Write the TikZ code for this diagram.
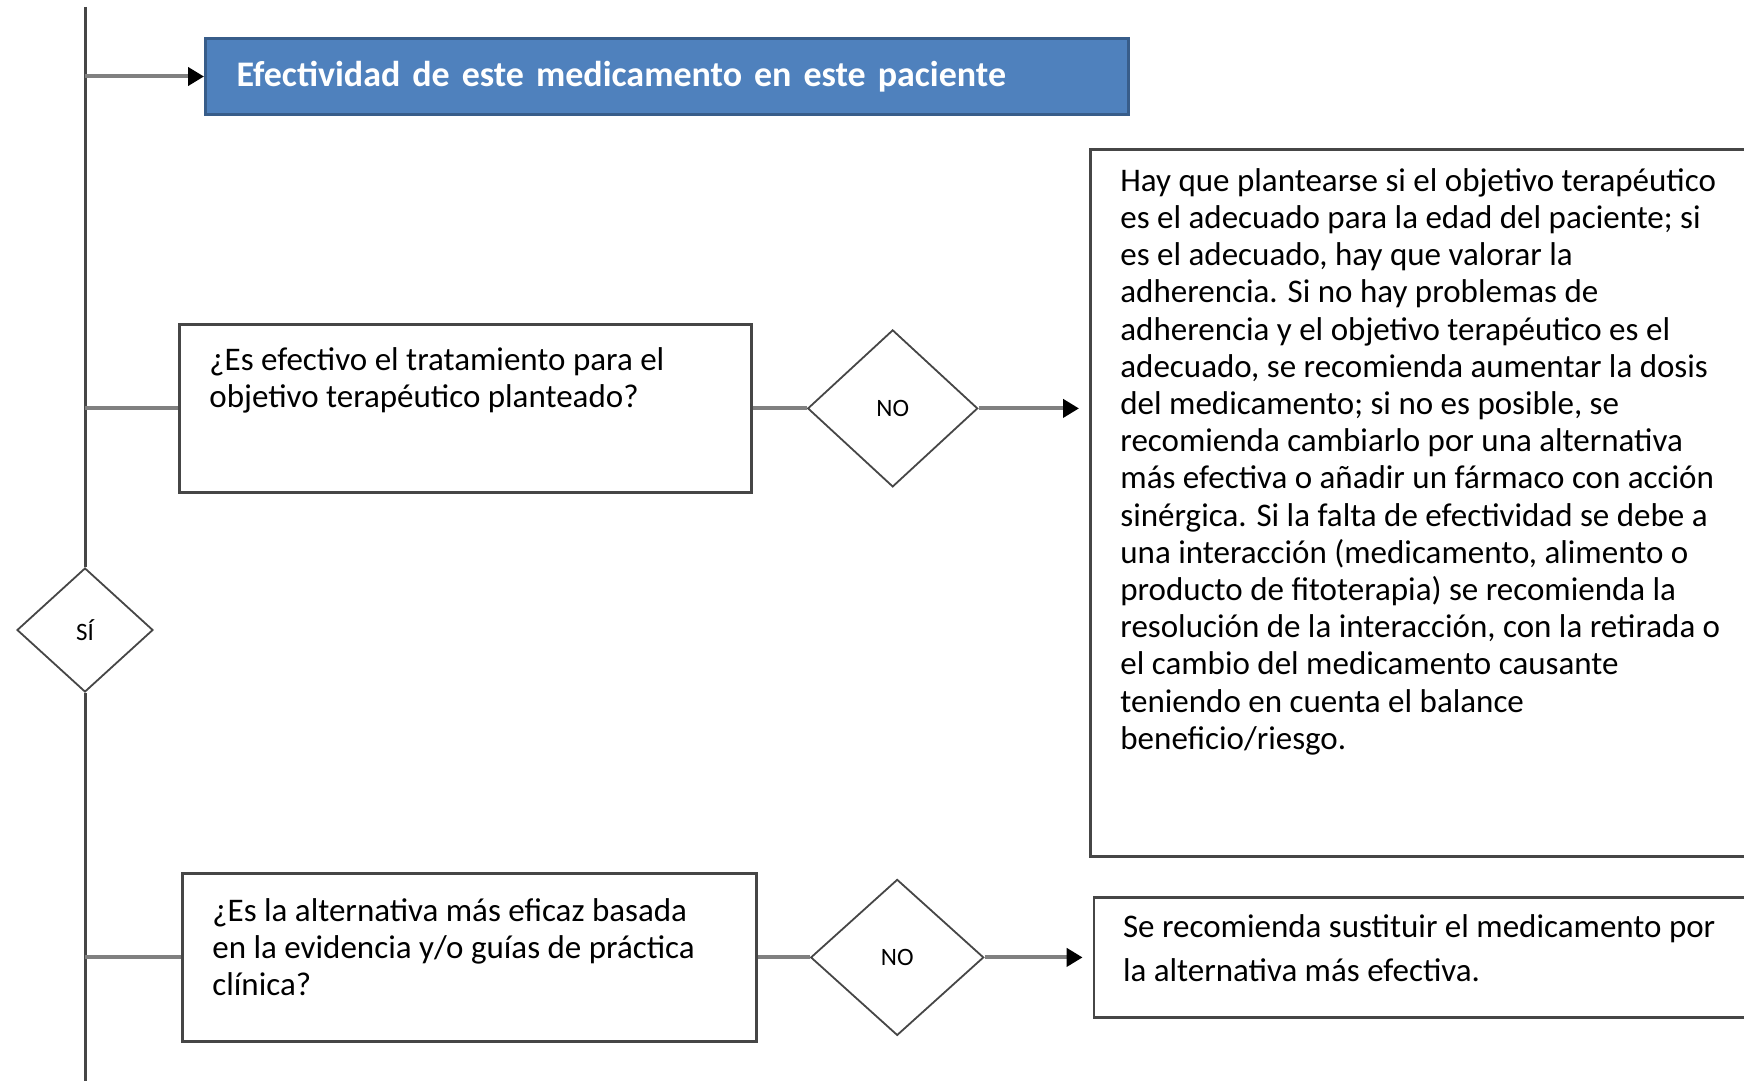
\documentclass[tikz,border=0pt]{standalone}
\usepackage{fontspec}
\setmainfont{Carlito}
\usepackage{xcolor}
\usepackage{tikz}
\usetikzlibrary{shapes.geometric,arrows.meta,positioning}
\definecolor{headblue}{RGB}{79,129,189}
\definecolor{headedge}{RGB}{56,93,138}
\definecolor{edgegray}{RGB}{70,70,70}
\definecolor{wiregray}{RGB}{128,128,128}

\begin{document}
\begin{tikzpicture}[
        x=0.5pt, y=-0.5pt,
        % Plain boxes with a dark grey border, text set top left
        qbox/.style={rectangle, draw=edgegray, line width=1.4pt, fill=white,
            anchor=north west, inner sep=0pt},
        qtext/.style={anchor=north west, align=left, inner sep=0pt,
            font=\fontsize{16.5}{18.6}\selectfont},
        decision/.style={diamond, draw=edgegray, line width=0.9pt, inner sep=0pt,
            font=\fontsize{12.5}{14}\selectfont},
        wire/.style={draw=wiregray, line width=2pt},
        flow/.style={wire, -{Triangle[length=8pt,width=9pt,color=black,fill=black]}}
    ]
        \useasboundingbox (0,0) rectangle (1744,1081);

        \coordinate (top) at (85,7);
        \coordinate (bottom) at (85,1081);

        \node[rectangle, draw=headedge, line width=1.5pt, fill=headblue, anchor=north west,
            minimum height=38pt, text width=430.7pt, inner xsep=15.5pt, align=left,
            text=white, font=\bfseries\fontsize{18}{20}\selectfont] (head) at (204,37)
            {Efectividad de este medicamento en este paciente};

        \node[qbox, minimum width=286pt, minimum height=84pt] (ask1) at (178,323) {};
        \node[qtext] (ask1txt) at ([shift={(15.5pt,-12pt)}]ask1.north west)
            {¿Es efectivo el tratamiento para el\\objetivo terapéutico planteado?};
        \node[decision, minimum width=85pt, minimum height=78.5pt, right=27pt of ask1] (no1) {NO};

        \node[qbox, minimum width=335.5pt, minimum height=353.5pt] (advice1) at (1089,148) {};
        \node[qtext] (advice1txt) at ([shift={(15.5pt,-10pt)}]advice1.north west)
            {Hay que plantearse si el objetivo terapéutico\\
            es el adecuado para la edad del paciente; si\\
            es el adecuado, hay que valorar la\\
            adherencia. Si no hay problemas de\\
            adherencia y el objetivo terapéutico es el\\
            adecuado, se recomienda aumentar la dosis\\
            del medicamento; si no es posible, se\\
            recomienda cambiarlo por una alternativa\\
            más efectiva o añadir un fármaco con acción\\
            sinérgica. Si la falta de efectividad se debe a\\
            una interacción (medicamento, alimento o\\
            producto de fitoterapia) se recomienda la\\
            resolución de la interacción, con la retirada o\\
            el cambio del medicamento causante\\
            teniendo en cuenta el balance\\
            beneficio/riesgo.};

        \node[decision, minimum width=68pt, minimum height=62pt] (yes) at (85,630) {SÍ};

        \node[qbox, minimum width=287pt, minimum height=84pt] (ask2) at (181,872) {};
        \node[qtext] (ask2txt) at ([shift={(15.5pt,-13pt)}]ask2.north west)
            {¿Es la alternativa más eficaz basada\\en la evidencia y/o guías de práctica\\clínica?};
        \node[decision, minimum width=86.5pt, minimum height=78pt, right=26pt of ask2] (no2) {NO};

        \node[qbox, minimum width=335pt, minimum height=60pt, right=54pt of no2] (advice2) {};
        \node[qtext, font=\fontsize{16.5}{22}\selectfont] (advice2txt)
            at ([shift={(15pt,-9pt)}]advice2.north west)
            {Se recomienda sustituir el medicamento por\\la alternativa más efectiva.};

        % Connections
        \draw[draw=edgegray, line width=1.5pt] (top) -- (yes);
        \draw[draw=edgegray, line width=1.5pt] (yes) -- (bottom);
        \draw[flow] (top |- head.west) -- (head);
        \draw[wire] (top |- ask1.west) -- (ask1);
        \draw[wire] (ask1) -- (no1);
        \draw[flow, shorten >=5pt] (no1) -- (no1 -| advice1.west);
        \draw[wire] (top |- ask2.west) -- (ask2);
        \draw[wire] (ask2) -- (no2);
        \draw[flow, shorten >=5pt] (no2) -- (advice2);
    \end{tikzpicture}
\end{document}
